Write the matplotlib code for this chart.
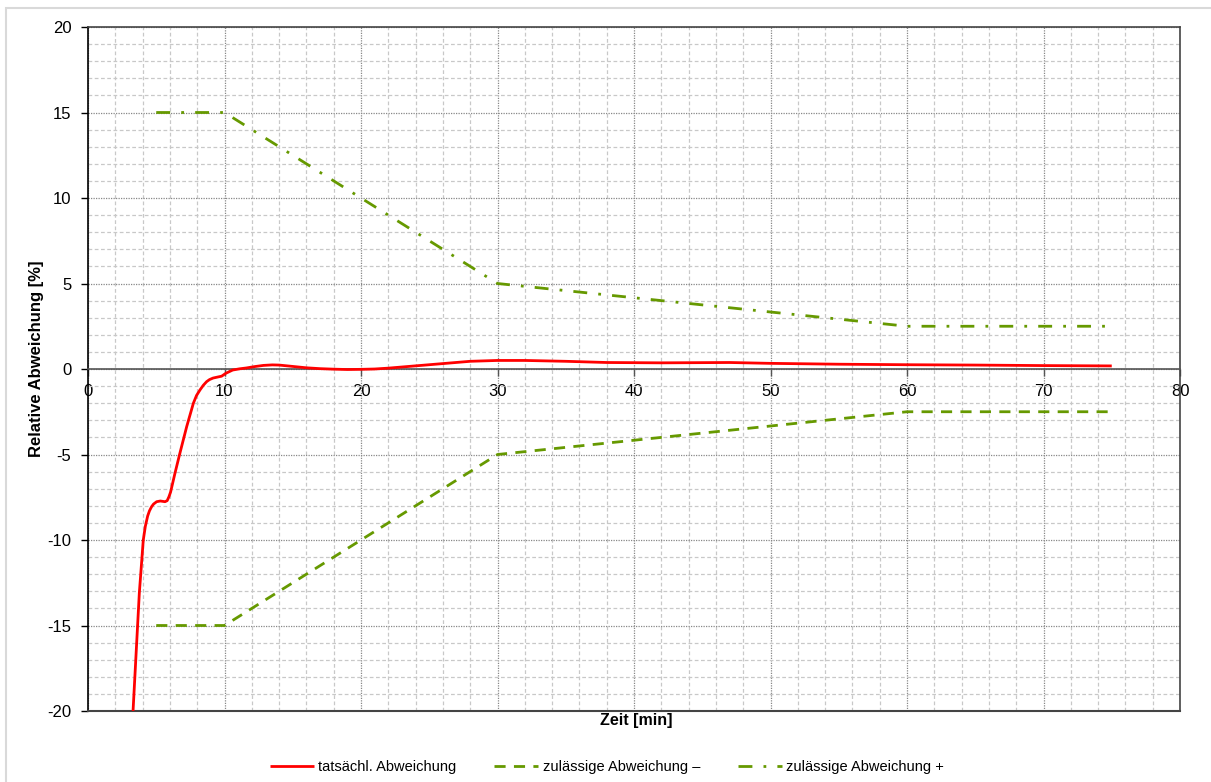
import matplotlib
matplotlib.use("Agg")
import matplotlib.pyplot as plt
from matplotlib.ticker import MultipleLocator
from matplotlib.patches import Rectangle

plt.rcParams['font.family'] = ['Liberation Sans', 'DejaVu Sans']

# Measured deviation over time
zeit_ist = [3.3, 3.76, 4.05, 4.2, 4.37, 4.5, 4.66, 4.8, 5.03, 5.3, 5.64, 5.8, 5.93, 6.05,
            6.37, 6.74, 7.23, 7.72, 7.95, 8.2, 8.45, 8.69, 8.9, 9.16, 9.5, 9.79, 10.1,
            10.6, 11.1, 11.6, 12.2, 12.85, 13.5, 14.0, 15.0, 16.0, 17.0, 18.0, 19.0,
            20.0, 21.0, 22.0, 25.0, 28.0, 30.0, 32.0, 35.0, 38.0, 42.0, 47.0, 50.0, 55.0,
            60.0, 65.0, 70.0, 75.0]
abw_ist = [-20.0, -13.1, -10.0, -9.2, -8.6, -8.3, -8.05, -7.9, -7.76, -7.72, -7.76, -7.7,
           -7.47, -7.2, -6.1, -4.9, -3.37, -2.0, -1.55, -1.23, -0.95, -0.74, -0.62, -0.53,
           -0.47, -0.42, -0.25, -0.06, 0.01, 0.06, 0.14, 0.21, 0.24, 0.23, 0.15, 0.07,
           0.02, -0.01, -0.03, -0.02, 0.0, 0.05, 0.25, 0.45, 0.5, 0.5, 0.45, 0.38, 0.36,
           0.38, 0.33, 0.28, 0.25, 0.23, 0.2, 0.18]

# Permitted deviation limits
zeit_grenze = [5, 10, 30, 60, 75]
grenze_minus = [-15, -15, -5, -2.5, -2.5]
grenze_plus = [15, 15, 5, 2.5, 2.5]

rot = '#ff0000'
gruen = '#669900'

fig = plt.figure(figsize=(12.11, 7.82), dpi=100)
ax = fig.add_axes([88 / 1211, 1 - 711 / 782, (1180 - 88) / 1211, (711 - 27) / 782])

ax.set_xlim(0, 80)
ax.set_ylim(-20, 20)

ax.xaxis.set_major_locator(MultipleLocator(10))
ax.xaxis.set_minor_locator(MultipleLocator(2))
ax.yaxis.set_major_locator(MultipleLocator(5))
ax.yaxis.set_minor_locator(MultipleLocator(1))

ax.grid(which='minor', color='#c8c8c8', linestyle=(0, (3, 2)), linewidth=0.9)
ax.grid(which='major', color='#888888', linestyle=(0, (1, 1)), linewidth=0.9)
ax.set_axisbelow(True)

l1, = ax.plot(zeit_ist, abw_ist, color=rot, linewidth=2.0, solid_capstyle='butt',
              solid_joinstyle='round', label='tatsächl. Abweichung', zorder=5)
l2, = ax.plot(zeit_grenze, grenze_minus, color=gruen, linewidth=2.0,
              linestyle=(0, (4, 3)), label='zulässige Abweichung –', zorder=4)
l3, = ax.plot(zeit_grenze, grenze_plus, color=gruen, linewidth=2.0,
              linestyle=(0, (5, 4, 1, 4)), label='zulässige Abweichung +', zorder=4)

# Axis frame: x axis crosses at zero
ax.spines['bottom'].set_position(('data', 0))
ax.spines['bottom'].set_color('#555555')
ax.spines['bottom'].set_linewidth(1.2)
ax.spines['left'].set_color('black')
ax.spines['left'].set_linewidth(1.2)
for s in ('top', 'right'):
    ax.spines[s].set_color('#444444')
    ax.spines[s].set_linewidth(1.2)
ax.axhline(-20, color='#444444', linewidth=1.5, clip_on=False, zorder=3)

ax.tick_params(which='minor', length=0)
ax.tick_params(axis='x', which='major', direction='out', length=5, width=1,
               color='#555555', labelsize=12, pad=6)
ax.tick_params(axis='y', which='major', direction='out', length=5, width=1,
               labelsize=12, pad=7)
ax.set_xticks(range(0, 81, 10))
ax.set_xticklabels([str(v) for v in range(0, 81, 10)])
ax.set_yticks(range(-20, 21, 5))
ax.set_yticklabels([str(v) for v in range(-20, 21, 5)])

fig.text(37 / 1211, 1 - 359 / 782, 'Relative Abweichung [%]', rotation=90,
         ha='center', va='center', fontsize=12, fontweight='bold')
fig.text(636 / 1211, 1 - 720 / 782, 'Zeit [min]', ha='center', va='center',
         fontsize=11.5, fontweight='bold')

fig.legend(handles=[l1, l2, l3], loc='center', bbox_to_anchor=(607 / 1211, 1 - 767 / 782),
           ncol=3, frameon=False, fontsize=10.5, handlelength=3.0, handletextpad=0.3,
           columnspacing=2.6)

# Light outer border of the chart area
fig.patches.append(Rectangle((5.5 / 1211, -0.05), 1.1, 1 - 8 / 782 + 0.05,
                             transform=fig.transFigure, fill=False,
                             edgecolor='#d9d9d9', linewidth=1.5))

fig.savefig('out.png', dpi=100)
